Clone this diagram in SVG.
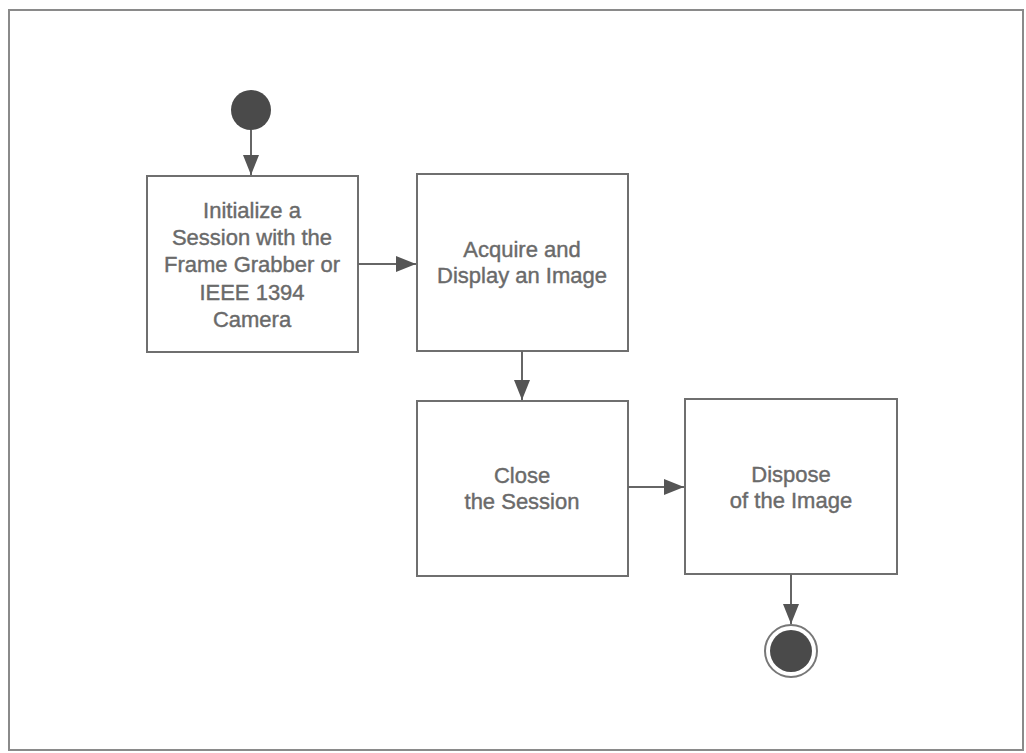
<svg xmlns="http://www.w3.org/2000/svg" width="1026" height="753" viewBox="0 0 1026 753">
<style>
.frame{fill:none;stroke:#8a8a8a;stroke-width:2}
.box{fill:#fff;stroke:#6f6f6f;stroke-width:2}
.lbl{font-family:"Liberation Sans",Arial,sans-serif;font-size:22px;fill:#6a6a6a;stroke:#6a6a6a;stroke-width:0.4;text-anchor:middle}
.conn{stroke:#666;stroke-width:2;fill:none}
.dot{fill:#4a4a4a}
</style>
<defs>
<marker id="arr" markerUnits="userSpaceOnUse" markerWidth="20" markerHeight="16" refX="20" refY="8" orient="auto">
<path d="M0,0 L20,8 L0,16 Z" fill="#555"/>
</marker>
</defs>
<rect width="1026" height="753" fill="#fff"/>
<rect class="frame" x="9" y="10" width="1014" height="740"/>
<g id="start"><circle class="dot" cx="251" cy="110" r="20"/></g>
<g id="init">
<rect class="box" x="147" y="176" width="211" height="176"/>
<text class="lbl" x="252" y="218">Initialize a</text>
<text class="lbl" x="252" y="245">Session with the</text>
<text class="lbl" x="252" y="272">Frame Grabber or</text>
<text class="lbl" x="252" y="300">IEEE 1394</text>
<text class="lbl" x="252" y="327">Camera</text>
</g>
<g id="acquire">
<rect class="box" x="417" y="174" width="211" height="177"/>
<text class="lbl" x="522" y="257">Acquire and</text>
<text class="lbl" x="522" y="283">Display an Image</text>
</g>
<g id="close">
<rect class="box" x="417" y="401" width="211" height="175"/>
<text class="lbl" x="522" y="483">Close</text>
<text class="lbl" x="522" y="509">the Session</text>
</g>
<g id="dispose">
<rect class="box" x="685" y="399" width="212" height="175"/>
<text class="lbl" x="791" y="482">Dispose</text>
<text class="lbl" x="791" y="508">of the Image</text>
</g>
<g id="end">
<circle cx="791" cy="651" r="26" fill="#fff" stroke="#777" stroke-width="2"/>
<circle class="dot" cx="791" cy="651" r="21"/>
</g>
<g id="connectors">
<line class="conn" x1="251" y1="130" x2="251" y2="175" marker-end="url(#arr)"/>
<line class="conn" x1="358" y1="264" x2="416" y2="264" marker-end="url(#arr)"/>
<line class="conn" x1="522" y1="351" x2="522" y2="400" marker-end="url(#arr)"/>
<line class="conn" x1="628" y1="487" x2="684" y2="487" marker-end="url(#arr)"/>
<line class="conn" x1="791" y1="574" x2="791" y2="624" marker-end="url(#arr)"/>
</g>
</svg>
